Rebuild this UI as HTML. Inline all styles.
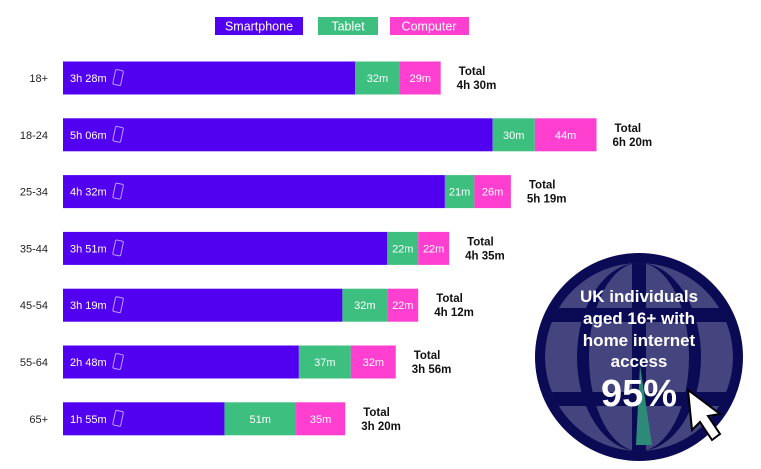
<!DOCTYPE html>
<html><head><meta charset="utf-8"><style>
body{margin:0;background:#fff;width:761px;height:469px;overflow:hidden;font-family:"Liberation Sans",sans-serif}
svg{display:block}
</style></head><body>
<svg id="c" width="761" height="469">
<defs><clipPath id="gc"><circle cx="639" cy="357" r="94"/></clipPath></defs>
<g>
<rect x="215" y="17" width="88" height="18" fill="#5200f0"/>
<text x="259" y="30.5" fill="#fff" font-size="12.5" text-anchor="middle">Smartphone</text>
<rect x="318" y="17" width="60" height="18" fill="#3dbf80"/>
<text x="348" y="30.5" fill="#fff" font-size="12.5" text-anchor="middle">Tablet</text>
<rect x="390" y="17" width="79" height="18" fill="#ff3fd0"/>
<text x="429" y="30.5" fill="#fff" font-size="12.5" text-anchor="middle">Computer</text>
</g>
<g id="bars"></g>
<g>
<circle cx="639" cy="357" r="104" fill="#0b0b55"/>
<g clip-path="url(#gc)">
<circle cx="639" cy="357" r="94" fill="#44447f"/>
<ellipse cx="639" cy="357" rx="62" ry="94" fill="#0b0b55"/>
<ellipse cx="639" cy="357" rx="50" ry="94" fill="#44447f"/>
<rect x="540" y="308" width="200" height="14" fill="#0b0b55"/>
<rect x="540" y="392" width="200" height="14" fill="#0b0b55"/>
<rect x="632" y="260" width="14" height="200" fill="#0b0b55"/>
<polygon points="640,365 652,445 636,445" fill="#2e8a78"/>
</g>
<text fill="#fff" font-weight="bold" font-size="17" text-anchor="middle">
<tspan x="639" y="302">UK individuals</tspan><tspan x="639" y="324">aged 16+ with</tspan><tspan x="639" y="346">home internet</tspan><tspan x="639" y="367">access</tspan></text>
<text x="639" y="406" fill="#fff" font-weight="bold" font-size="38" text-anchor="middle">95%</text>
<polygon points="688,390 692,430 700,422 712,440 720,434 708,416 720,414" fill="#fff" stroke="#000" stroke-width="2"/>
</g>
</svg>
<script>
const categories=["18+","18-24","25-34","35-44","45-54","55-64","65+"];
const smartphone=[208,306,272,231,199,168,115];
const tablet=[32,30,21,22,32,37,51];
const computer=[29,44,26,22,22,32,35];
const totals=[270,380,319,275,252,236,200];
const NS="http://www.w3.org/2000/svg";
const x0=63,k=1.404;
function xs(m){return x0+m*k}
function yc(i){return 78+i*56.8}
function fmtTot(m){const h=Math.floor(m/60),r=m%60;return h+"h "+(r<10?"0"+r:r)+"m"}
function el(t,a,p){const e=document.createElementNS(NS,t);for(const q in a)e.setAttribute(q,a[q]);p.appendChild(e);return e}
const g=document.getElementById("bars");
categories.forEach((c,i)=>{
 const y=yc(i),top=y-16.5;
 const lab=el("text",{x:48,y:y+4,"text-anchor":"end","font-size":11,fill:"#222"},g);lab.textContent=c;
 
 
 const s=smartphone[i],t=tablet[i],p=computer[i];
 const r1=el("rect",{x:xs(0),y:top,width:xs(s)-xs(0),height:33,fill:"#5200f0"},g);
 
 
 const r2=el("rect",{x:xs(s),y:top,width:xs(s+t)-xs(s),height:33,fill:"#3dbf80"},g);
 
 
 const r3=el("rect",{x:xs(s+t),y:top,width:xs(s+t+p)-xs(s+t),height:33,fill:"#ff3fd0"},g);
 
 
 const hh=Math.floor(s/60),mm=s%60;
 const st=el("text",{x:70,y:y+4,fill:"#fff","font-size":11},g);st.textContent=hh+"h "+(mm<10?"0"+mm:mm)+"m";
 
 
 const ph=el("rect",{x:114,y:y-8,width:8,height:15,rx:1.5,fill:"none",stroke:"#b9a0ff","stroke-width":1,transform:`rotate(12 118 ${y})`},g);
 
 
 const tt=el("text",{x:(xs(s)+xs(s+t))/2,y:y+4,fill:"#fff","font-size":11,"text-anchor":"middle"},g);tt.textContent=t+"m";
 
 
 const ct=el("text",{x:(xs(s+t)+xs(s+t+p))/2,y:y+4,fill:"#fff","font-size":11,"text-anchor":"middle"},g);ct.textContent=p+"m";
 
 
 const tx=xs(s+t+p)+16;
 const tot=el("text",{x:tx,y:y-3,fill:"#111","font-size":11.5,"font-weight":"bold"},g);
 
 
 el("tspan",{x:tx+2},tot).textContent="Total";
 el("tspan",{x:tx,dy:14},tot).textContent=fmtTot(totals[i]);
});
</script>
</body></html>
